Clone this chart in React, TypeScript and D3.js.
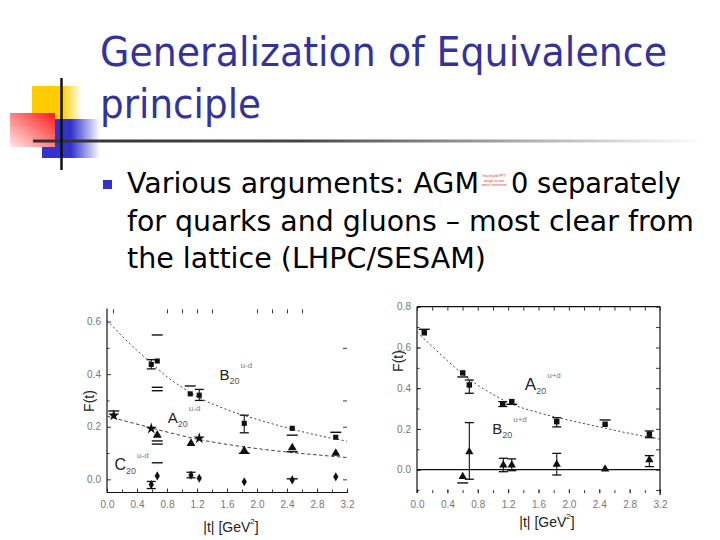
import React, { useEffect, useRef } from "react";
import * as d3 from "d3";

interface Pt { t: number; v: number; lo?: number; hi?: number }
type XY = [number, number];

// ---- left panel: isovector (u-d) ----
const udB20: Pt[] = [
  { t: 0.59, v: 0.437, lo: 0.42, hi: 0.455 },
  { t: 0.67, v: 0.45 },
  { t: 1.11, v: 0.325 },
  { t: 1.23, v: 0.32, lo: 0.3, hi: 0.342 },
  { t: 1.83, v: 0.213, lo: 0.177, hi: 0.244 },
  { t: 2.47, v: 0.194 },
  { t: 3.05, v: 0.16 },
];
const udA20: Pt[] = [
  { t: 0.67, v: 0.168 },
  { t: 1.12, v: 0.137 },
  { t: 1.83, v: 0.109 },
  { t: 2.47, v: 0.12 },
  { t: 3.05, v: 0.099 },
];
const udA20Star: Pt[] = [
  { t: 0.09, v: 0.243 },
  { t: 0.59, v: 0.193 },
  { t: 1.23, v: 0.156 },
];
const udC20: Pt[] = [
  { t: 0.59, v: -0.02, lo: -0.035, hi: -0.008 },
  { t: 0.67, v: 0.013 },
  { t: 1.12, v: 0.016, lo: 0.006, hi: 0.027 },
  { t: 1.23, v: 0.004 },
  { t: 1.83, v: -0.009 },
  { t: 2.47, v: -0.002 },
  { t: 3.05, v: 0.01 },
];
// error-bar caps whose bars are not visible
const udCaps: XY[] = [
  [0.09, 0.26], [0.67, 0.549], [0.67, 0.35], [0.67, 0.337], [1.11, 0.355],
  [0.67, 0.146], [0.67, 0.134], [0.67, 0.063], [1.83, 0.099], [2.47, 0.168],
  [2.47, 0.105], [2.47, 0.002], [3.05, 0.179],
];
const udB20Fit: XY[] = [
  [0, 0.605], [0.2, 0.545], [0.4, 0.49], [0.6, 0.44], [0.8, 0.39], [1.0, 0.35],
  [1.2, 0.315], [1.6, 0.265], [2.0, 0.228], [2.4, 0.196], [2.8, 0.168], [3.2, 0.145],
];
const udA20Fit: XY[] = [
  [0, 0.24], [0.4, 0.21], [0.8, 0.18], [1.2, 0.153], [1.6, 0.133],
  [2.0, 0.117], [2.4, 0.104], [2.8, 0.093], [3.2, 0.083],
];
const udTopTicks = [0.08, 0.8, 1.0, 1.2, 1.4, 2.0, 2.2, 2.4, 2.6];
const udRightTicks = [0.0, 0.2, 0.3, 0.5];

// ---- right panel: isosinglet (u+d) ----
const sumA20: Pt[] = [
  { t: 0.096, v: 0.672 },
  { t: 0.602, v: 0.475 },
  { t: 0.689, v: 0.416, lo: 0.375, hi: 0.44 },
  { t: 1.129, v: 0.321, lo: 0.31, hi: 0.334 },
  { t: 1.248, v: 0.334 },
  { t: 1.84, v: 0.236, lo: 0.21, hi: 0.255 },
  { t: 2.477, v: 0.223 },
  { t: 3.06, v: 0.174, lo: 0.157, hi: 0.19 },
];
const sumB20: Pt[] = [
  { t: 0.602, v: -0.034 },
  { t: 0.689, v: 0.088, lo: -0.047, hi: 0.231 },
  { t: 1.137, v: 0.023, lo: -0.01, hi: 0.056 },
  { t: 1.248, v: 0.023, lo: -0.005, hi: 0.053 },
  { t: 1.84, v: 0.026, lo: -0.026, hi: 0.08 },
  { t: 2.477, v: 0.003 },
  { t: 3.06, v: 0.048, lo: 0.015, hi: 0.069 },
];
const sumCaps: XY[] = [
  [0.096, 0.689], [0.602, 0.455], [1.248, 0.321], [2.477, 0.244], [0.602, -0.065],
];
const sumA20Fit: XY[] = [
  [0, 0.675], [0.2, 0.605], [0.4, 0.535], [0.6, 0.47], [0.8, 0.415], [1.0, 0.37],
  [1.2, 0.33], [1.6, 0.28], [2.0, 0.243], [2.4, 0.21], [2.8, 0.178], [3.2, 0.15],
];

const xLabels = [0, 0.4, 0.8, 1.2, 1.6, 2.0, 2.4, 2.8, 3.2];
const xMinor = d3.range(0, 3.21, 0.2);
const bodyLines = [
  "for quarks and gluons \u2013 most clear from",
  "the lattice (LHPC/SESAM)",
];

const SANS = "'Liberation Sans', Arial, sans-serif";
const SLIDE = "'DejaVu Sans', Verdana, sans-serif";

export default function App() {
  const svgRef = useRef<SVGSVGElement | null>(null);

  useEffect(() => {
    if (!svgRef.current) return;
    const svg = d3.select(svgRef.current);
    svg.selectAll("*").remove();

    // gradients for the slide decoration
    const defs = svg.append("defs");
    const grad = (id: string, color: string, x2: string, y2: string, stops: [string, number][]) => {
      const g = defs.append("linearGradient").attr("id", id)
        .attr("x1", "0").attr("y1", "0").attr("x2", x2).attr("y2", y2);
      stops.forEach(([off, op]) => g.append("stop").attr("offset", off)
        .attr("stop-color", color).attr("stop-opacity", op));
    };
    grad("yel", "#ffcc00", "1", "0", [["0", 1], ["0.6", 1], ["1", 0]]);
    grad("blu", "#3333cc", "1", "0", [["0", 1], ["0.5", 1], ["1", 0]]);
    grad("hline", "#333333", "1", "0", [["0", 1], ["0.4", 0.9], ["1", 0]]);
    const rg = defs.append("linearGradient").attr("id", "red")
      .attr("x1", "1").attr("y1", "0").attr("x2", "0").attr("y2", "1");
    rg.append("stop").attr("offset", "0").attr("stop-color", "#ff1a1a");
    rg.append("stop").attr("offset", "1").attr("stop-color", "#ffe8e8");

    svg.append("rect").attr("x", 32).attr("y", 86).attr("width", 50).attr("height", 33).attr("fill", "url(#yel)");
    svg.append("rect").attr("x", 42).attr("y", 119).attr("width", 58).attr("height", 39).attr("fill", "url(#blu)");
    svg.append("rect").attr("x", 10).attr("y", 113).attr("width", 45).attr("height", 34).attr("fill", "url(#red)");
    svg.append("rect").attr("x", 33).attr("y", 139.5).attr("width", 670).attr("height", 3).attr("fill", "url(#hline)");
    svg.append("line").attr("x1", 61.5).attr("x2", 61.5).attr("y1", 78).attr("y2", 170)
      .attr("stroke", "#111").attr("stroke-width", 2.5);

    // title
    const title = svg.append("g").attr("fill", "#333399").style("font-family", SLIDE).style("font-size", "41px");
    title.append("text").attr("x", 100).attr("y", 66).attr("textLength", 567)
      .attr("lengthAdjust", "spacingAndGlyphs").text("Generalization of Equivalence");
    title.append("text").attr("x", 100).attr("y", 118).attr("textLength", 161)
      .attr("lengthAdjust", "spacingAndGlyphs").text("principle");

    // bullet text
    svg.append("rect").attr("x", 103).attr("y", 180).attr("width", 9).attr("height", 9).attr("fill", "#3333cc");
    const body = svg.append("g").attr("fill", "#000").style("font-family", SLIDE).style("font-size", "28px");
    body.append("text").attr("x", 127).attr("y", 193).attr("textLength", 352)
      .attr("lengthAdjust", "spacingAndGlyphs").text("Various arguments: AGM");
    body.append("text").attr("x", 511).attr("y", 193).attr("textLength", 170)
      .attr("lengthAdjust", "spacingAndGlyphs").text("0 separately");
    body.append("text").attr("x", 127).attr("y", 231).attr("textLength", 567)
      .attr("lengthAdjust", "spacingAndGlyphs").text(bodyLines[0]);
    body.append("text").attr("x", 127).attr("y", 268).attr("textLength", 359)
      .attr("lengthAdjust", "spacingAndGlyphs").text(bodyLines[1]);
    // tiny embedded picture between AGM and 0
    const tiny = svg.append("g").attr("fill", "#dd3344").style("font-family", SANS).style("font-size", "3.6px");
    ["Your build PPT", "image to text", "were converted"].forEach((s, i) =>
      tiny.append("text").attr("x", 494).attr("y", 177 + i * 4.5).attr("text-anchor", "middle").text(s));

    const fmt = d3.format(".1f");
    const styleAxis = (g: d3.Selection<SVGGElement, unknown, null, undefined>) => {
      g.select(".domain").remove();
      g.selectAll(".tick line").attr("stroke", "#222").attr("stroke-width", 0.9);
      g.selectAll(".tick text").attr("fill", "#777").style("font-size", "10px").style("font-family", SANS);
    };

    const drawPanel = (
      x: d3.ScaleLinear<number, number>,
      y: d3.ScaleLinear<number, number>,
      yLabels: number[],
      yMinor: number[],
    ) => {
      const g = svg.append("g");
      const [x0, x1] = x.range();
      const [y0, y1] = y.range();
      g.append("g").attr("transform", `translate(${x0},0)`)
        .call(d3.axisLeft(y).tickValues(yMinor).tickSize(-2.5).tickFormat(() => "")).call(styleAxis);
      g.append("g").attr("transform", `translate(${x0},0)`)
        .call(d3.axisLeft(y).tickValues(yLabels).tickSize(-4).tickPadding(6).tickFormat((d) => fmt(d as number))).call(styleAxis);
      g.append("g").attr("transform", `translate(0,${y0})`)
        .call(d3.axisBottom(x).tickValues(xMinor).tickSize(-3).tickFormat(() => "")).call(styleAxis);
      g.append("g").attr("transform", `translate(0,${y0})`)
        .call(d3.axisBottom(x).tickValues(xLabels).tickSize(-4).tickPadding(8).tickFormat((d) => fmt(d as number))).call(styleAxis);
      g.append("line").attr("x1", x0).attr("x2", x0).attr("y1", y1).attr("y2", y0).attr("stroke", "#111").attr("stroke-width", 1.2);
      return { g, x0, x1, y0, y1 };
    };

    const drawFit = (g: d3.Selection<SVGGElement, unknown, null, undefined>, x: any, y: any, pts: XY[], dash: string) => {
      const line = d3.line<XY>().x((d) => x(d[0])).y((d) => y(d[1])).curve(d3.curveMonotoneX);
      g.append("path").datum(pts).attr("fill", "none").attr("stroke", "#444")
        .attr("stroke-width", 1).attr("stroke-dasharray", dash).attr("d", line);
    };

    const drawErr = (g: d3.Selection<SVGGElement, unknown, null, undefined>, x: any, y: any, pts: Pt[]) => {
      pts.filter((d) => d.lo !== undefined).forEach((d) => {
        const cx = x(d.t);
        g.append("line").attr("x1", cx).attr("x2", cx).attr("y1", y(d.lo!)).attr("y2", y(d.hi!))
          .attr("stroke", "#111").attr("stroke-width", 1.1);
        [d.lo!, d.hi!].forEach((v) => g.append("line").attr("x1", cx - 4.5).attr("x2", cx + 4.5)
          .attr("y1", y(v)).attr("y2", y(v)).attr("stroke", "#111").attr("stroke-width", 1.3));
      });
    };

    const drawCaps = (g: d3.Selection<SVGGElement, unknown, null, undefined>, x: any, y: any, caps: XY[]) => {
      caps.forEach(([t, v]) => g.append("line").attr("x1", x(t) - 5.5).attr("x2", x(t) + 5.5)
        .attr("y1", y(v)).attr("y2", y(v)).attr("stroke", "#111").attr("stroke-width", 1.4));
    };

    const drawMarks = (g: d3.Selection<SVGGElement, unknown, null, undefined>, x: any, y: any, pts: Pt[], type: d3.SymbolType, size: number) => {
      g.selectAll(null).data(pts).join("path")
        .attr("transform", (d) => `translate(${x(d.t)},${y(d.v)})`)
        .attr("d", d3.symbol(type, size)())
        .attr("fill", "#111");
    };

    const label = (g: d3.Selection<SVGGElement, unknown, null, undefined>, px: number, py: number, main: string, sup: string, size: number) => {
      const t = g.append("text").attr("x", px).attr("y", py).style("font-family", SANS).attr("fill", "#222");
      t.append("tspan").style("font-size", `${size}px`).text(main);
      t.append("tspan").style("font-size", "9px").attr("fill", "#555").attr("dy", 4).text("20");
      t.append("tspan").style("font-size", "8px").attr("fill", "#777").attr("dx", 1).attr("dy", -16).text(sup);
    };

    const axisTitles = (cx: number, cy: number, bx: number, by: number) => {
      svg.append("text").attr("transform", `translate(${cx},${cy}) rotate(-90)`).attr("text-anchor", "middle")
        .style("font-family", SANS).style("font-size", "14px").attr("fill", "#222").text("F(t)");
      const t = svg.append("text").attr("x", bx).attr("y", by).attr("text-anchor", "middle")
        .style("font-family", SANS).style("font-size", "14px").attr("fill", "#222");
      t.append("tspan").text("|t| [GeV");
      t.append("tspan").style("font-size", "8px").attr("dy", -8).text("2");
      t.append("tspan").attr("dy", 8).text("]");
    };

    // ---------- left panel ----------
    {
      const x = d3.scaleLinear().domain([0, 3.2]).range([107, 347]);
      const y = d3.scaleLinear().domain([-0.05, 0.65]).range([492.5, 308.4]);
      const { g, x0, x1, y0, y1 } = drawPanel(x, y, [0, 0.2, 0.4, 0.6], [0.1, 0.3, 0.5]);
      g.append("line").attr("x1", x0).attr("x2", x1 + 1).attr("y1", y0).attr("y2", y0).attr("stroke", "#111").attr("stroke-width", 1.2);
      g.append("g").attr("transform", `translate(0,${y1 + 1})`)
        .call(d3.axisTop(x).tickValues(udTopTicks).tickSize(-4).tickFormat(() => "")).call(styleAxis);
      g.append("g").attr("transform", `translate(${x1},0)`)
        .call(d3.axisRight(y).tickValues(udRightTicks).tickSize(-4).tickFormat(() => "")).call(styleAxis);

      drawFit(g, x, y, udB20Fit, "2,2.5");
      drawFit(g, x, y, udA20Fit, "3.5,2.5");
      drawErr(g, x, y, udB20);
      drawErr(g, x, y, udC20);
      drawCaps(g, x, y, udCaps);
      drawMarks(g, x, y, udB20, d3.symbolSquare, 26);
      drawMarks(g, x, y, udA20, d3.symbolTriangle, 34);
      drawMarks(g, x, y, udA20Star, d3.symbolStar, 40);
      drawMarks(g, x, y, udC20, d3.symbolDiamond, 24);

      label(g, x(1.5), y(0.378), "B", "u-d", 15);
      label(g, x(0.81), y(0.214), "A", "u-d", 15);
      label(g, x(0.1), y(0.035), "C", "u-d", 16);
      axisTitles(94, 401, 231, 532);
    }

    // ---------- right panel ----------
    {
      const x = d3.scaleLinear().domain([0, 3.2]).range([417, 660]);
      const y = d3.scaleLinear().domain([-0.115, 0.8]).range([493.1, 306.7]);
      const { g, x0, x1, y0, y1 } = drawPanel(x, y, [0, 0.2, 0.4, 0.6, 0.8], d3.range(-0.1, 0.81, 0.1));
      g.append("line").attr("x1", x0).attr("x2", x1).attr("y1", y1).attr("y2", y1).attr("stroke", "#111").attr("stroke-width", 1.2);
      g.append("line").attr("x1", x1).attr("x2", x1).attr("y1", y1).attr("y2", y0 + 2).attr("stroke", "#111").attr("stroke-width", 1.2);
      g.append("line").attr("x1", x0).attr("x2", x1).attr("y1", y(0)).attr("y2", y(0)).attr("stroke", "#111").attr("stroke-width", 1.3);
      g.append("g").attr("transform", `translate(0,${y1})`)
        .call(d3.axisTop(x).tickValues(xMinor).tickSize(-4).tickFormat(() => "")).call(styleAxis);
      g.append("g").attr("transform", `translate(${x1},0)`)
        .call(d3.axisRight(y).tickValues(d3.range(-0.1, 0.81, 0.1)).tickSize(-4).tickFormat(() => "")).call(styleAxis);

      drawFit(g, x, y, sumA20Fit, "2,2.5");
      drawErr(g, x, y, sumA20);
      drawErr(g, x, y, sumB20);
      drawCaps(g, x, y, sumCaps);
      drawMarks(g, x, y, sumA20, d3.symbolSquare, 30);
      drawMarks(g, x, y, sumB20, d3.symbolTriangle, 30);

      label(g, x(1.42), y(0.39), "A", "u+d", 17);
      label(g, x(0.99), y(0.175), "B", "u+d", 15);
      axisTitles(403, 361, 547, 527);
    }
  }, []);

  return (
    <div style={{ position: "absolute", left: 0, top: 0, background: "#fff" }}>
      <svg ref={svgRef} width={720} height={540} style={{ display: "block" }} />
    </div>
  );
}
